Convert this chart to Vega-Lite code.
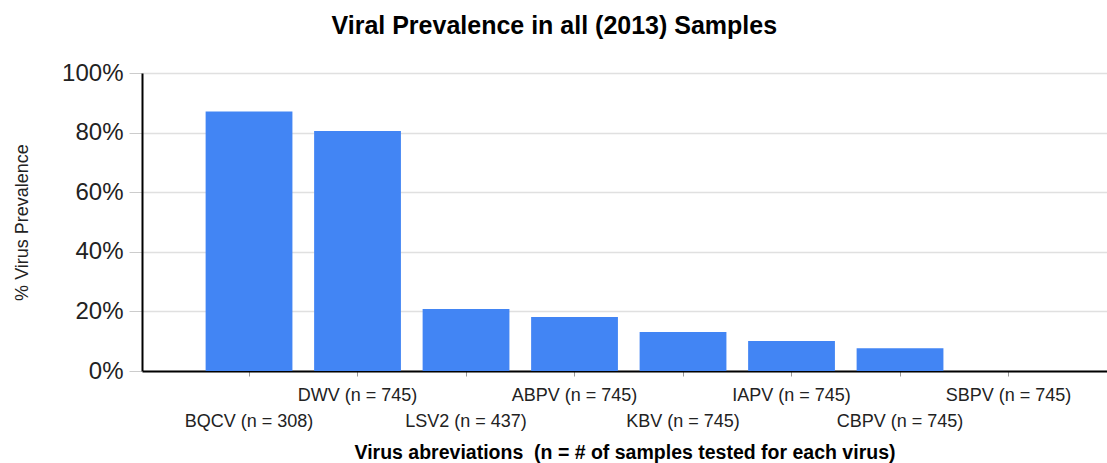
{
  "$schema": "https://vega.github.io/schema/vega-lite/v6.json",
  "width": 965,
  "height": 298,
  "autosize": {"type": "none"},
  "padding": {"left": 142, "top": 73, "right": 0, "bottom": 92},
  "background": "white",
  "title": {
    "text": "Viral Prevalence in all (2013) Samples",
    "font": "Liberation Sans",
    "fontSize": 25,
    "fontWeight": "bold",
    "color": "#000000",
    "anchor": "middle",
    "frame": "bounds",
    "dx": -6,
    "offset": 22
  },
  "data": {
    "values": [
      {"virus": "BQCV (n = 308)", "prevalence": 0.871},
      {"virus": "DWV (n = 745)", "prevalence": 0.805},
      {"virus": "LSV2 (n = 437)", "prevalence": 0.208},
      {"virus": "ABPV (n = 745)", "prevalence": 0.181},
      {"virus": "KBV (n = 745)", "prevalence": 0.131},
      {"virus": "IAPV (n = 745)", "prevalence": 0.101},
      {"virus": "CBPV (n = 745)", "prevalence": 0.076},
      {"virus": "SBPV (n = 745)", "prevalence": 0}
    ]
  },
  "mark": {"type": "bar", "color": "#4285f4"},
  "encoding": {
    "x": {
      "field": "virus",
      "type": "nominal",
      "sort": null,
      "scale": {"paddingInner": 0.2, "paddingOuter": 0.547, "align": 0.536},
      "axis": {
        "title": "Virus abreviations \u00a0(n = # of samples tested for each virus)",
        "titleFont": "Liberation Sans",
        "titleFontSize": 19.5,
        "titleFontWeight": "bold",
        "titleColor": "#000000",
        "titlePadding": 13,
        "domainColor": "#000000",
        "domainWidth": 2,
        "tickColor": "#999999",
        "tickSize": 5,
        "labelFont": "Liberation Sans",
        "labelFontSize": 18,
        "labelColor": "#222222",
        "labelAngle": 0,
        "labelLineHeight": 26,
        "labelPadding": 10,
        "labelOverlap": false,
        "labelExpr": "round(datum.index * 7) % 2 == 0 ? ['', datum.label] : datum.label",
        "grid": false
      }
    },
    "y": {
      "field": "prevalence",
      "type": "quantitative",
      "scale": {"domain": [0, 1]},
      "axis": {
        "title": "% Virus Prevalence",
        "titleFont": "Liberation Sans",
        "titleFontSize": 18,
        "titleFontWeight": "normal",
        "titleColor": "#222222",
        "titlePadding": 30,
        "values": [0, 0.2, 0.4, 0.6, 0.8, 1],
        "format": ".0%",
        "domainColor": "#000000",
        "domainWidth": 2,
        "tickColor": "#cccccc",
        "tickSize": 13,
        "labelFont": "Liberation Sans",
        "labelFontSize": 24,
        "labelColor": "#222222",
        "labelPadding": 6,
        "gridColor": "#e0e0e0",
        "gridWidth": 1.5
      }
    }
  },
  "config": {"view": {"stroke": null}}
}
